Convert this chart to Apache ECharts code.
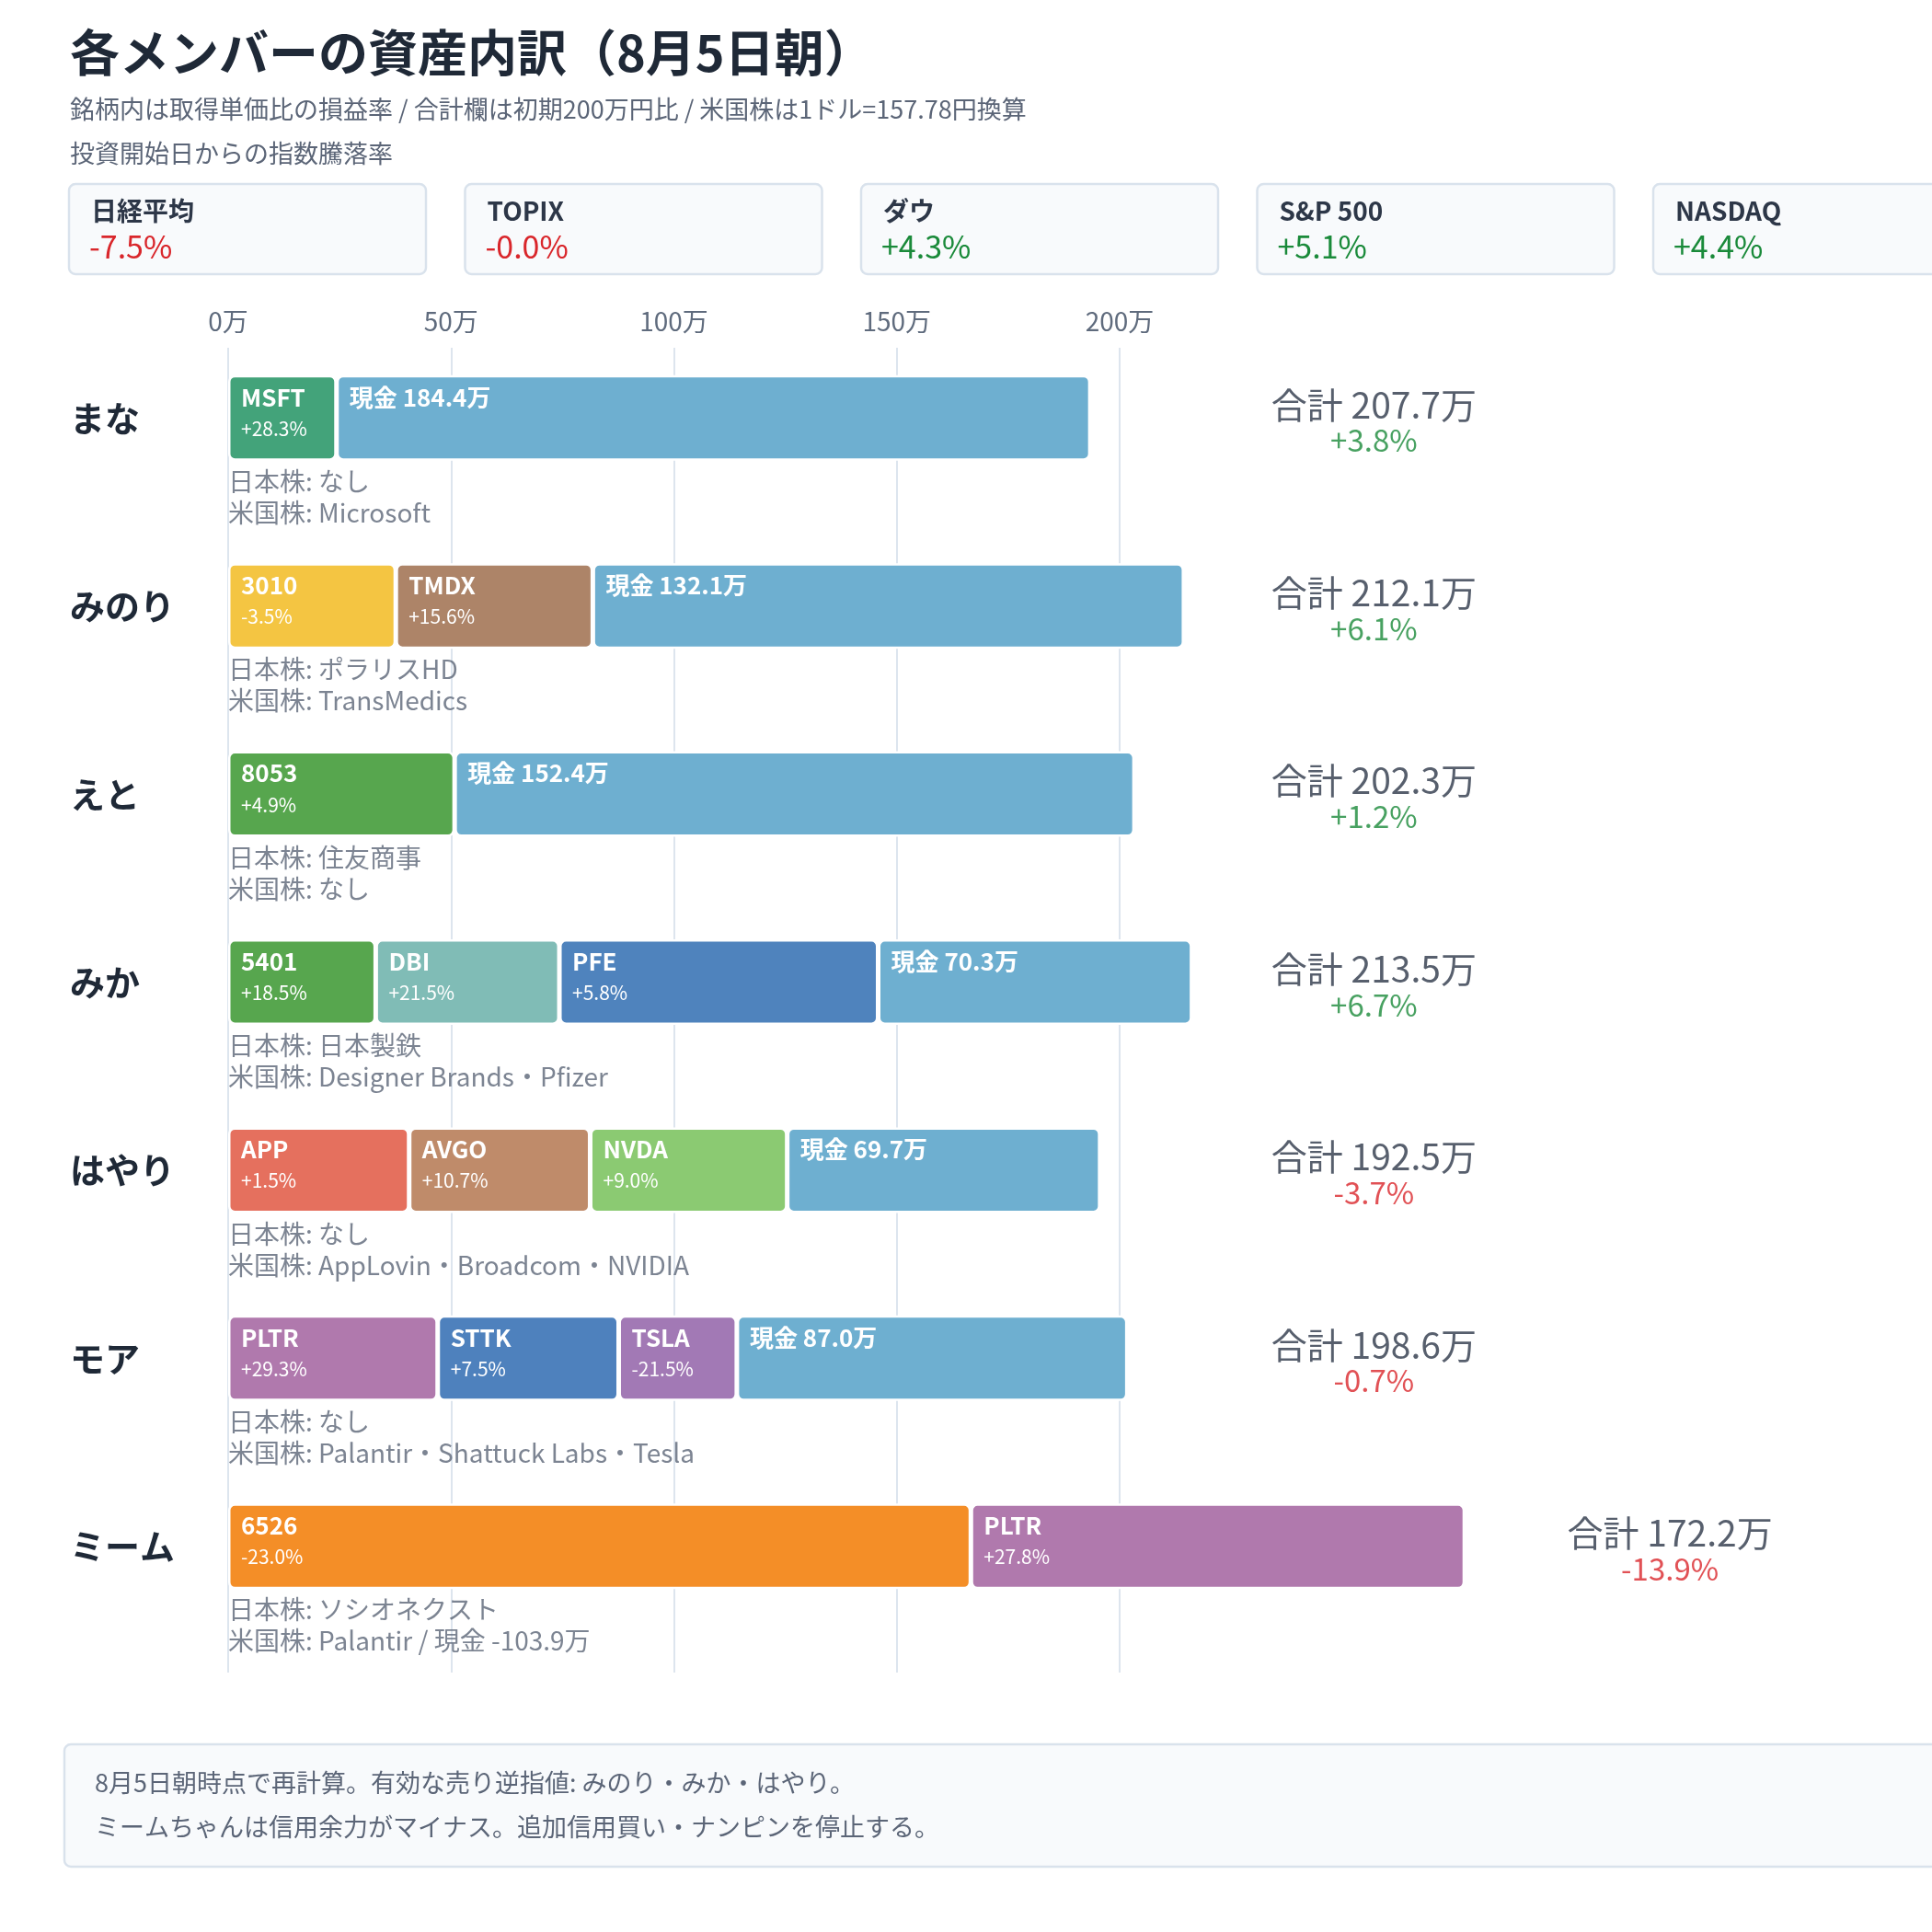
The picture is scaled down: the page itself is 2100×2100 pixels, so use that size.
<!DOCTYPE html>
<html lang="ja" style="height: 100%">
<head>
  <meta charset="UTF-8">
  <title>各メンバーの資産内訳</title>
</head>
<body style="height: 100%; margin: 0; background: #ffffff">
<div id="container" style="width: 2100px; height: 2100px"></div>
<script type="text/javascript" src="https://cdn.jsdelivr.net/npm/echarts@6/dist/echarts.min.js"></script>
<script type="text/javascript">
  // メンバー
  var members = ['まな', 'みのり', 'えと', 'みか', 'はやり', 'モア', 'ミーム'];
  // 銘柄（各メンバー最大3つ）
  var stockNames = [
    ['MSFT'], ['3010', 'TMDX'], ['8053'], ['5401', 'DBI', 'PFE'],
    ['APP', 'AVGO', 'NVDA'], ['PLTR', 'STTK', 'TSLA'], ['6526', 'PLTR']
  ];
  // 評価額（万円）
  var stockValues = [
    [24.3], [37.6, 44.2], [50.8], [33.1, 41.2, 71.5],
    [40.6, 40.6, 44.2], [47.0, 40.6, 26.5], [166.6, 110.8]
  ];
  // 取得単価比の損益率（%）
  var stockPcts = [
    [28.3], [-3.5, 15.6], [4.9], [18.5, 21.5, 5.8],
    [1.5, 10.7, 9.0], [29.3, 7.5, -21.5], [-23.0, 27.8]
  ];
  var stockColors = [
    ['#43a37a'], ['#f4c542', '#ad8468'], ['#57a64e'], ['#57a64e', '#80bcb6', '#4f83bd'],
    ['#e5705e', '#bf8b6a', '#8bca72'], ['#b079ad', '#4e81bd', '#a279b5'], ['#f48e27', '#b079ad']
  ];
  // 現金（バーの長さ / ラベル）
  var cashValues = [169.1, 132.6, 152.5, 70.4, 70.2, 87.6, null];
  var cashLabels = [184.4, 132.1, 152.4, 70.3, 69.7, 87.0, null];
  // 合計
  var totals = [207.7, 212.1, 202.3, 213.5, 192.5, 198.6, 172.2];
  var totalPcts = [3.8, 6.1, 1.2, 6.7, -3.7, -0.7, -13.9];
  // 保有銘柄メモ
  var jpNotes = ['なし', 'ポラリスHD', '住友商事', '日本製鉄', 'なし', 'なし', 'ソシオネクスト'];
  var usNotes = ['Microsoft', 'TransMedics', 'なし', 'Designer Brands・Pfizer',
    'AppLovin・Broadcom・NVIDIA', 'Palantir・Shattuck Labs・Tesla', 'Palantir / 現金 -103.9万'];
  // 指数騰落率
  var indexNames = ['日経平均', 'TOPIX', 'ダウ', 'S&P 500', 'NASDAQ'];
  var indexChanges = ['-7.5%', '-0.0%', '+4.3%', '+5.1%', '+4.4%'];
  // 軸
  var axisTicks = [0, 50, 100, 150, 200];

  var FONT = '"Noto Sans CJK JP", "Noto Sans", sans-serif';
  var RED = '#d9262b', GREEN = '#1a8a3a', GRAY = '#5b6577', DARK = '#1f2937';

  function fmtPct(v) {
    return (v > 0 ? '+' : '') + v.toFixed(1) + '%';
  }

  var dom = document.getElementById('container');
  var myChart = echarts.init(dom, null, { renderer: 'canvas' });

  var segLabel = {
    show: true,
    position: 'insideTopLeft',
    distance: 0,
    padding: [7, 0, 0, 14],
    fontFamily: FONT,
    rich: {
      n: { color: '#fff', fontSize: 26, fontWeight: 'bold', lineHeight: 34, fontFamily: FONT },
      p: { color: '#fff', fontSize: 21, lineHeight: 34, fontFamily: FONT }
    }
  };

  var series = [];
  for (var s = 0; s < 3; s++) {
    (function (slot) {
      series.push({
        type: 'bar',
        stack: 'a',
        barWidth: 93,
        xAxisIndex: 0, yAxisIndex: 0,
        itemStyle: { borderColor: '#fff', borderWidth: 2.5, borderRadius: 6 },
        label: segLabel,
        data: members.map(function (m, i) {
          if (slot >= stockNames[i].length) return '-';
          return {
            value: stockValues[i][slot],
            itemStyle: { color: stockColors[i][slot] },
            label: {
              formatter: '{n|' + stockNames[i][slot] + '}\n{p|' + fmtPct(stockPcts[i][slot]) + '}'
            }
          };
        })
      });
    })(s);
  }
  series.push({
    type: 'bar',
    stack: 'a',
    barWidth: 93,
    xAxisIndex: 0, yAxisIndex: 0,
    itemStyle: { color: '#6eafd0', borderColor: '#fff', borderWidth: 2.5, borderRadius: 6 },
    label: segLabel,
    data: members.map(function (m, i) {
      if (cashValues[i] == null) return '-';
      return {
        value: cashValues[i],
        label: { formatter: '{n|現金 ' + cashLabels[i].toFixed(1) + '万}' }
      };
    })
  });

  // 合計欄：通常は固定の列、バーが列にかかる行はバー末端の右
  var totalCol = 257;
  series.push({
    type: 'scatter',
    xAxisIndex: 0, yAxisIndex: 0,
    symbolSize: 0,
    silent: true,
    data: members.map(function (m, i) {
      var gross = stockValues[i].reduce(function (a, b) { return a + b; }, 0) + (cashValues[i] || 0);
      return {
        value: [gross > totalCol - 10 ? gross + 46 : totalCol, i],
        label: {
          formatter: '{a|合計 ' + totals[i].toFixed(1) + '万}\n{' + (totalPcts[i] >= 0 ? 'g' : 'r') + '|' + fmtPct(totalPcts[i]) + '}'
        }
      };
    }),
    label: {
      show: true,
      position: [0, 0],
      align: 'center',
      verticalAlign: 'middle',
      offset: [0, 5],
      rich: {
        a: { fontSize: 39, color: '#2d3748', lineHeight: 39, fontFamily: FONT },
        g: { fontSize: 33, color: GREEN, lineHeight: 39, fontFamily: FONT },
        r: { fontSize: 33, color: RED, lineHeight: 39, fontFamily: FONT }
      }
    }
  });

  // 日本株・米国株メモ（バーの下）
  series.push({
    type: 'scatter',
    xAxisIndex: 0, yAxisIndex: 0,
    symbolSize: 0,
    silent: true,
    data: members.map(function (m, i) {
      return {
        value: [0, i],
        label: { formatter: '日本株: ' + jpNotes[i] + '\n米国株: ' + usNotes[i] }
      };
    }),
    label: {
      show: true,
      position: [0, 52],
      align: 'left',
      verticalAlign: 'top',
      fontSize: 28,
      lineHeight: 34,
      color: GRAY,
      fontFamily: FONT
    }
  });

  // グラフィック（タイトル・指数・注記）
  var graphics = [
    { type: 'text', left: 76, top: 30, style: { text: '各メンバーの資産内訳（8月5日朝）', font: 'bold 54px ' + FONT, fill: DARK } },
    { type: 'text', x: 76, y: 119, style: { text: '銘柄内は取得単価比の損益率 / 合計欄は初期200万円比 / 米国株は1ドル=157.78円換算', font: '27px ' + FONT, fill: GRAY, verticalAlign: 'middle' } },
    { type: 'text', x: 76, y: 167, style: { text: '投資開始日からの指数騰落率', font: '27px ' + FONT, fill: GRAY, verticalAlign: 'middle' } }
  ];
  indexNames.forEach(function (name, i) {
    var x = 75 + i * 430.5;
    graphics.push({
      type: 'rect', shape: { x: x, y: 200, width: 388, height: 98, r: 7 },
      style: { fill: '#f8fafc', stroke: '#d9e2ec', lineWidth: 2.5 }
    });
    graphics.push({
      type: 'text', x: x + 24, y: 229,
      style: { text: name, font: 'bold 28px ' + FONT, fill: '#2d3748', verticalAlign: 'middle' }
    });
    graphics.push({
      type: 'text', x: x + 22, y: 268,
      style: { text: indexChanges[i], font: '34px ' + FONT, fill: indexChanges[i].charAt(0) === '-' ? RED : GREEN, verticalAlign: 'middle' }
    });
  });
  graphics.push({
    type: 'rect', shape: { x: 70, y: 1896, width: 2100, height: 133, r: 7 },
    style: { fill: '#f8fafc', stroke: '#d9e2ec', lineWidth: 2.5 }
  });
  graphics.push({
    type: 'text', x: 103, y: 1938,
    style: { text: '8月5日朝時点で再計算。有効な売り逆指値: みのり・みか・はやり。', font: '27px ' + FONT, fill: GRAY, verticalAlign: 'middle' }
  });
  graphics.push({
    type: 'text', x: 103, y: 1986,
    style: { text: 'ミームちゃんは信用余力がマイナス。追加信用買い・ナンピンを停止する。', font: '27px ' + FONT, fill: GRAY, verticalAlign: 'middle' }
  });

  var option = {
    backgroundColor: '#ffffff',
    animation: false,
    textStyle: { fontFamily: FONT },
    graphic: graphics,
    grid: [
      { left: 248, right: 156, top: 352, bottom: 317 },
      { left: 248, right: 883, top: 378, bottom: 282 }
    ],
    xAxis: [
      {
        gridIndex: 0, type: 'value', min: 0, max: 350, interval: 50, show: false
      },
      {
        gridIndex: 1, type: 'value', position: 'top',
        min: axisTicks[0], max: axisTicks[axisTicks.length - 1], interval: 50,
        axisLine: { show: false }, axisTick: { show: false },
        axisLabel: {
          margin: 15, fontSize: 28, color: '#5f6b7d', fontFamily: FONT,
          formatter: function (v) { return v + '万'; }
        },
        splitLine: { show: true, lineStyle: { color: '#dde5ee', width: 2 } }
      }
    ],
    yAxis: [
      {
        gridIndex: 0, type: 'category', data: members, inverse: true,
        axisLine: { show: false }, axisTick: { show: false },
        axisLabel: {
          align: 'left', margin: 172, fontSize: 38, fontWeight: 'bold', color: DARK, fontFamily: FONT
        }
      },
      { gridIndex: 1, type: 'value', show: false }
    ],
    series: series
  };

  myChart.setOption(option);
  window.addEventListener('resize', myChart.resize);
</script>
</body>
</html>
